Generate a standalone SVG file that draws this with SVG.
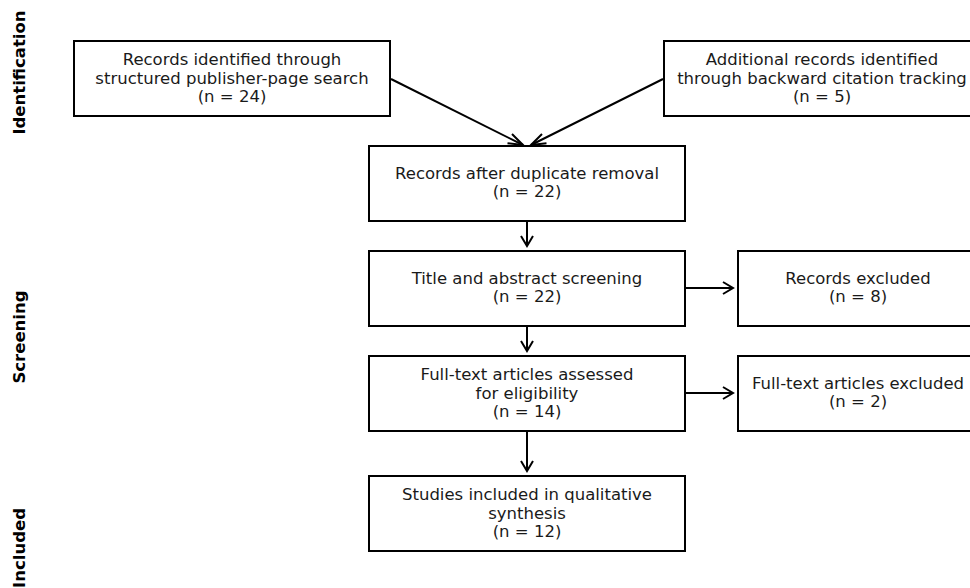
<svg xmlns="http://www.w3.org/2000/svg" width="970" height="588" viewBox="0 0 970 588">
<style>
.box{fill:#fff;stroke:#000;stroke-width:2}
.t{font-family:"DejaVu Sans",sans-serif;font-size:16.5px;fill:#1a1a1a;text-anchor:middle}
.lab{font-family:"DejaVu Sans",sans-serif;font-size:16.5px;font-weight:bold;fill:#000;text-anchor:middle}
.c{stroke:#000;stroke-width:2;fill:none}
.ah{stroke:#000;stroke-width:2;fill:none;stroke-linecap:butt;stroke-linejoin:miter}
</style>
<rect width="970" height="588" fill="#fff"/>
<g id="labels">
<text class="lab" transform="translate(25,72.5) rotate(-90)">Identification</text>
<text class="lab" transform="translate(25,337) rotate(-90)">Screening</text>
<text class="lab" transform="translate(25,548) rotate(-90)">Included</text>
</g>
<g id="connectors">
<path class="c" d="M391,79 L523,145"/>
<path class="ah" d="M507.5,143.3 L523,145 L512,134"/>
<path class="c" d="M663,79 L531,145"/>
<path class="ah" d="M546.5,143.3 L531,145 L542,134"/>
<path class="c" d="M527,221 L527,246"/>
<path class="ah" d="M521,236 L527,246 L533,236"/>
<path class="c" d="M527,326 L527,351"/>
<path class="ah" d="M521,341 L527,351 L533,341"/>
<path class="c" d="M527,431 L527,471"/>
<path class="ah" d="M521,461 L527,471 L533,461"/>
<path class="c" d="M686,288 L733,288"/>
<path class="ah" d="M723,282 L733,288 L723,294"/>
<path class="c" d="M686,393 L733,393"/>
<path class="ah" d="M723,387 L733,393 L723,399"/>
</g>
<g id="n1"><rect class="box" x="74" y="41" width="316" height="75"/>
<text class="t" x="232" y="65">Records identified through</text>
<text class="t" x="232" y="83.5">structured publisher-page search</text>
<text class="t" x="232" y="102">(n = 24)</text></g>
<g id="n2"><rect class="box" x="664" y="41" width="318" height="75"/>
<text class="t" x="822" y="65">Additional records identified</text>
<text class="t" x="822" y="83.5">through backward citation tracking</text>
<text class="t" x="822" y="102">(n = 5)</text></g>
<g id="n3"><rect class="box" x="369" y="146" width="316" height="75"/>
<text class="t" x="527" y="178.5">Records after duplicate removal</text>
<text class="t" x="527" y="197">(n = 22)</text></g>
<g id="n4"><rect class="box" x="369" y="251" width="316" height="75"/>
<text class="t" x="527" y="283.5">Title and abstract screening</text>
<text class="t" x="527" y="302">(n = 22)</text></g>
<g id="n5"><rect class="box" x="369" y="356" width="316" height="75"/>
<text class="t" x="527" y="380">Full-text articles assessed</text>
<text class="t" x="527" y="398.5">for eligibility</text>
<text class="t" x="527" y="417">(n = 14)</text></g>
<g id="n6"><rect class="box" x="738" y="251" width="240" height="75"/>
<text class="t" x="858" y="283.5">Records excluded</text>
<text class="t" x="858" y="302">(n = 8)</text></g>
<g id="n7"><rect class="box" x="738" y="356" width="240" height="75"/>
<text class="t" x="858" y="388.5">Full-text articles excluded</text>
<text class="t" x="858" y="407">(n = 2)</text></g>
<g id="n8"><rect class="box" x="369" y="476" width="316" height="75"/>
<text class="t" x="527" y="500">Studies included in qualitative</text>
<text class="t" x="527" y="518.5">synthesis</text>
<text class="t" x="527" y="537">(n = 12)</text></g>
</svg>
